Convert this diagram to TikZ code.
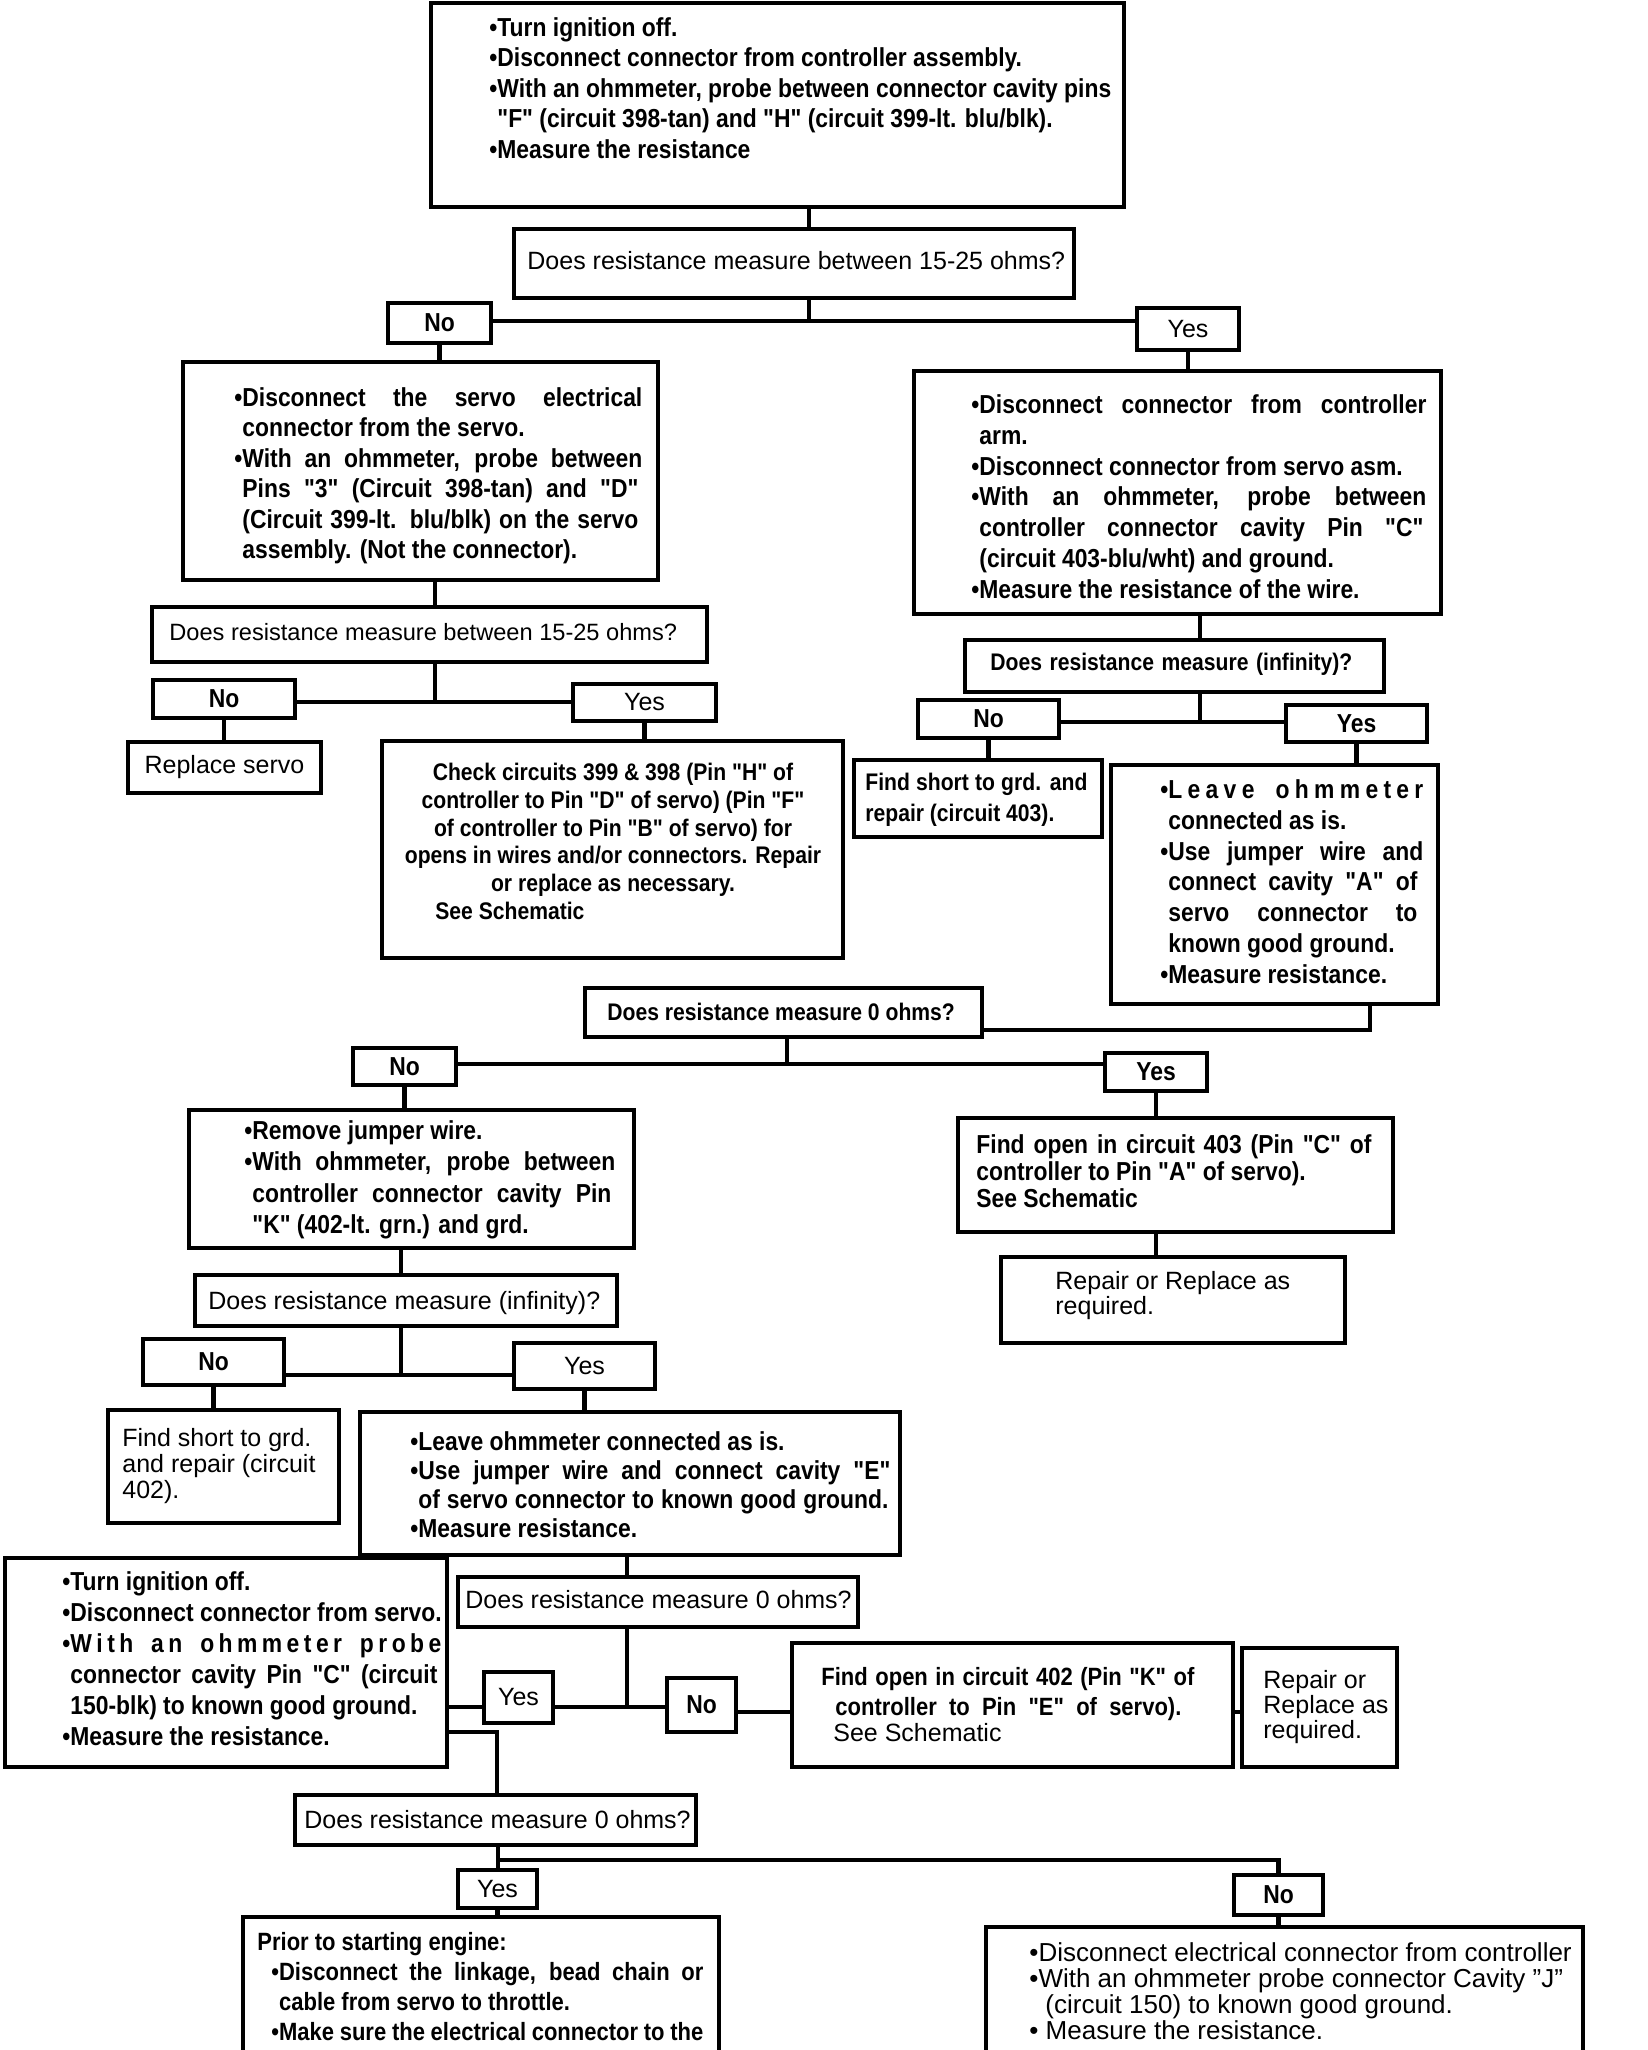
\documentclass[tikz,border=0pt]{standalone}
\usepackage{fontspec}
\setmainfont{Liberation Sans}
\newfontfamily\bcfam[FakeStretch=0.88]{Liberation Sans}
\newcommand\bcf{\bcfam\bfseries}
\newcommand\fstrut{\rule{0pt}{10pt}}
\usetikzlibrary{fit}
\begin{document}
\begin{tikzpicture}[x=0.5pt,y=-0.5pt,
  box/.style={draw, line width=2.4pt, inner sep=0pt, outer sep=0pt},
  conn/.style={line width=2.4pt},
  bt/.style={anchor=north west, inner sep=0pt, align=left, font=\bcf\fontsize{13}{15.25}\selectfont},
  rt/.style={anchor=north west, inner sep=0pt, align=left, font=\fontsize{12.5}{12.5}\selectfont},
  lb/.style={anchor=center, inner sep=0pt, font=\bcf\fontsize{13}{15}\selectfont},
  lr/.style={anchor=center, inner sep=0pt, font=\fontsize{12.5}{15}\selectfont}]
\useasboundingbox (0,0) rectangle (1648,2050);
\clip (0,0) rectangle (1648,2050);

% ---------- top ----------
\node[box, fit={(431,3) (1124,207)}] (T1) {};
\node[bt] (T1t) at (489,16) {\fstrut•Turn ignition off.\\•Disconnect connector from controller assembly.\\•With an ohmmeter, probe between connector cavity pins\\\phantom{•}"F" (circuit 398-tan) and "H" (circuit 399-lt. blu/blk).\\•Measure the resistance};

\node[box, fit={(514,229) (1074,298)}] (Q1) {};
\node[rt] (Q1t) at (527,249) {\fstrut Does resistance measure between 15-25 ohms?};

\node[box, fit={(388,303) (491,343)}] (No1) {};
\node[lb] (No1t) at (No1) {No};
\node[box, fit={(1137,308) (1239,350)}] (Yes1) {};
\node[lr] (Yes1t) at (Yes1) {Yes};

% ---------- left branch ----------
\node[box, fit={(183,362) (658,580)}] (L1) {};
\node[bt, font=\bcf\fontsize{13}{15.2}\selectfont] (L1t) at (234,386) {\fstrut\makebox[204pt][s]{•Disconnect the servo electrical}\\\phantom{•}connector from the servo.\\\makebox[204pt][s]{•With an ohmmeter, probe between}\\\phantom{•}\makebox[198pt][s]{Pins "3" (Circuit 398-tan) and "D"}\\\phantom{•}\makebox[198pt][s]{(Circuit 399-lt. blu/blk) on the servo}\\\phantom{•}assembly. (Not the connector).};

\node[box, fit={(152,607) (707,662)}] (QL2) {};
\node[rt, font=\fontsize{11.8}{12}\selectfont] (QL2t) at (169,620) {\fstrut Does resistance measure between 15-25 ohms?};

\node[box, fit={(153,680) (295,718)}] (NoL2) {};
\node[lb] (NoL2t) at (NoL2) {No};
\node[box, fit={(573,684) (716,721)}] (YesL2) {};
\node[lr] (YesL2t) at (YesL2) {Yes};

\node[box, fit={(128,742) (321,793)}] (RepS) {};
\node[lr] (RepSt) at (RepS) {Replace servo};

\node[box, fit={(382,741) (843,958)}] (Chk) {};
\node[anchor=north, inner sep=0pt, align=center, font=\bcf\fontsize{12}{13.9}\selectfont] (Chkt) at (613,760) {\fstrut Check circuits 399 \& 398 (Pin "H" of\\controller to Pin "D" of servo) (Pin "F"\\of controller to Pin "B" of servo) for\\opens in wires and/or connectors. Repair\\or replace as necessary.};
\node[bt, font=\bcf\fontsize{12}{14}\selectfont] (Chks) at (435,899) {\fstrut See Schematic};

% ---------- right branch ----------
\node[box, fit={(914,371) (1441,614)}] (R1) {};
\node[bt, font=\bcf\fontsize{13}{15.4}\selectfont] (R1t) at (971,393) {\fstrut\makebox[227.5pt][s]{•Disconnect connector from controller}\\\phantom{•}arm.\\•Disconnect connector from servo asm.\\\makebox[227.5pt][s]{•With an ohmmeter, probe between}\\\phantom{•}\makebox[222pt][s]{controller connector cavity Pin "C"}\\\phantom{•}(circuit 403-blu/wht) and ground.\\•Measure the resistance of the wire.};

\node[box, fit={(965,640) (1384,692)}] (Q2) {};
\node[bt, font=\bcf\fontsize{12}{14}\selectfont] (Q2t) at (990,650) {\fstrut\makebox[181pt][s]{Does resistance measure (infinity)?}};

\node[box, fit={(918,700) (1059,738)}] (No2) {};
\node[lb] (No2t) at (No2) {No};
\node[box, fit={(1286,705) (1427,742)}] (Yes2) {};
\node[lb] (Yes2t) at (Yes2) {Yes};

\node[box, fit={(854,760) (1102,837)}] (FS403) {};
\node[bt, font=\bcf\fontsize{12}{15.5}\selectfont] (FS403t) at (865,770) {\fstrut\makebox[111pt][s]{Find short to grd. and}\\repair (circuit 403).};

\node[box, fit={(1111,765) (1438,1004)}] (LvR) {};
\node[bt, font=\bcf\fontsize{13}{15.4}\selectfont] (LvRt) at (1160,778) {\fstrut\makebox[131.5pt][s]{•L\hfil e\hfil a\hfil v\hfil e\hfil\hfil\hfil\hfil o\hfil h\hfil m\hfil m\hfil e\hfil t\hfil e\hfil r}\\\phantom{•}connected as is.\\\makebox[131.5pt][s]{•Use jumper wire and}\\\phantom{•}\makebox[124.5pt][s]{connect cavity "A" of}\\\phantom{•}\makebox[124.5pt][s]{servo connector to}\\\phantom{•}known good ground.\\•Measure resistance.};

% ---------- middle ----------
\node[box, fit={(585,988) (982,1037)}] (Q3) {};
\node[bt, font=\bcf\fontsize{12}{14}\selectfont] (Q3t) at (607,1000) {\fstrut Does resistance measure 0 ohms?};

\node[box, fit={(353,1048) (456,1085)}] (NoQ3) {};
\node[lb] (NoQ3t) at (NoQ3) {No};
\node[box, fit={(1105,1053) (1207,1091)}] (YesQ3) {};
\node[lb] (YesQ3t) at (YesQ3) {Yes};

\node[box, fit={(189,1110) (634,1248)}] (Rem) {};
\node[bt, font=\bcf\fontsize{13}{15.75}\selectfont] (Remt) at (244,1119) {\fstrut•Remove jumper wire.\\\makebox[185.5pt][s]{•With ohmmeter, probe between}\\\phantom{•}\makebox[179.5pt][s]{controller connector cavity Pin}\\\phantom{•}"K" (402-lt. grn.) and grd.};

\node[box, fit={(958,1118) (1393,1232)}] (FO403) {};
\node[bt, font=\bcf\fontsize{13}{13.5}\selectfont] (FO403t) at (976,1133) {\fstrut\makebox[197.5pt][s]{Find open in circuit 403 (Pin "C" of}\\controller to Pin "A" of servo).\\See Schematic};

\node[box, fit={(1001,1257) (1345,1343)}] (Rep1) {};
\node[rt] (Rep1t) at (1055,1269) {\fstrut Repair or Replace as\\required.};

\node[box, fit={(195,1275) (617,1326)}] (Q4) {};
\node[rt] (Q4t) at (208,1289) {\fstrut Does resistance measure (infinity)?};

\node[box, fit={(143,1339) (284,1385)}] (NoQ4) {};
\node[lb] (NoQ4t) at (NoQ4) {No};
\node[box, fit={(514,1343) (655,1389)}] (YesQ4) {};
\node[lr] (YesQ4t) at (YesQ4) {Yes};

\node[box, fit={(108,1410) (339,1523)}] (FS402) {};
\node[rt, font=\fontsize{12.5}{13}\selectfont] (FS402t) at (122,1426) {\fstrut Find short to grd.\\and repair (circuit\\402).};

\node[box, fit={(360,1412) (900,1555)}] (LvL) {};
\node[bt, font=\bcf\fontsize{13}{14.5}\selectfont] (LvLt) at (410,1430) {\fstrut•Leave ohmmeter connected as is.\\\makebox[240pt][s]{•Use jumper wire and connect cavity "E"}\\\phantom{•}\makebox[235pt][s]{of servo connector to known good ground.}\\•Measure resistance.};

% ---------- lower ----------
\node[box, fit={(458,1577) (858,1627)}] (Q5) {};
\node[rt] (Q5t) at (465,1588) {\fstrut Does resistance measure 0 ohms?};

\node[box, fit={(484,1672) (553,1723)}] (YesQ5) {};
\node[lr] (YesQ5t) at (YesQ5) {Yes};
\node[box, fit={(667,1678) (736,1732)}] (NoQ5) {};
\node[lb] (NoQ5t) at (NoQ5) {No};

\node[box, fit={(792,1643) (1233,1767)}] (FO402) {};
\node[bt, font=\bcf\fontsize{12.5}{15}\selectfont] (FO402t) at (821,1665) {\fstrut\makebox[186.5pt][s]{Find open in circuit 402 (Pin "K" of}\\\hspace*{7pt}\makebox[173pt][s]{controller to Pin "E" of servo).}};
\node[rt] (FO402s) at (833,1721) {\fstrut See Schematic};

\node[box, fit={(1242,1648) (1397,1767)}] (Rep2) {};
\node[rt] (Rep2t) at (1263,1668) {\fstrut Repair or\\Replace as\\required.};

\node[box, fit={(5,1558) (447,1767)}] (TI) {};
\node[bt, font=\bcf\fontsize{13}{15.5}\selectfont] (TIt) at (62,1570) {\fstrut•Turn ignition off.\\•Disconnect connector from servo.\\\makebox[189.5pt][s]{•W\hfil i\hfil t\hfil h\hfil\hfil\hfil\hfil a\hfil n\hfil\hfil\hfil\hfil o\hfil h\hfil m\hfil m\hfil e\hfil t\hfil e\hfil r\hfil\hfil\hfil\hfil p\hfil r\hfil o\hfil b\hfil e}\\\phantom{•}\makebox[183.5pt][s]{connector cavity Pin "C" (circuit}\\\phantom{•}150-blk) to known good ground.\\•Measure the resistance.};

\node[box, fit={(295,1795) (696,1845)}] (Q6) {};
\node[rt] (Q6t) at (304,1808) {\fstrut Does resistance measure 0 ohms?};

\node[box, fit={(458,1870) (537,1908)}] (YesQ6) {};
\node[lr] (YesQ6t) at (YesQ6) {Yes};
\node[box, fit={(1234,1875) (1323,1915)}] (NoQ6) {};
\node[lb] (NoQ6t) at (NoQ6) {No};

\node[box, fit={(243,1917) (719,2100)}] (Prior) {};
\node[bt, font=\bcf\fontsize{12.5}{15}\selectfont] (Priort) at (257,1930) {\fstrut Prior to starting engine:\\\hspace*{7pt}\makebox[216pt][s]{•Disconnect the linkage, bead chain or}\\\hspace*{7pt}\phantom{•}cable from servo to throttle.\\\hspace*{7pt}\makebox[216pt][s]{•Make sure the electrical connector to the}};

\node[box, fit={(986,1927) (1583,2100)}] (BR) {};
\node[rt, font=\fontsize{13}{13}\selectfont] (BRt) at (1029,1941) {\fstrut•Disconnect electrical connector from controller\\•With an ohmmeter probe connector Cavity "J"\\\hspace*{8pt}(circuit 150) to known good ground.\\• Measure the resistance.};

% ---------- connectors ----------
\coordinate (J1) at (809,321);
\draw[conn] (J1 |- T1.south) -- (J1 |- Q1.north);
\draw[conn] (J1 |- Q1.south) -- (J1);
\draw[conn] (No1.east |- J1) -- (Yes1.west |- J1);
\draw[conn] (No1.south) -- (No1.south |- L1.north);
\draw[conn] (Yes1.south) -- (Yes1.south |- R1.north);

\coordinate (J2) at (435,702);
\draw[conn] (J2 |- L1.south) -- (J2 |- QL2.north);
\draw[conn] (J2 |- QL2.south) -- (J2);
\draw[conn] (NoL2.east |- J2) -- (YesL2.west |- J2);
\draw[conn] (NoL2.south) -- (NoL2.south |- RepS.north);
\draw[conn] (YesL2.south) -- (YesL2.south |- Chk.north);

\coordinate (J3) at (1200,722);
\draw[conn] (J3 |- R1.south) -- (J3 |- Q2.north);
\draw[conn] (J3 |- Q2.south) -- (J3);
\draw[conn] (No2.east |- J3) -- (Yes2.west |- J3);
\draw[conn] (No2.south) -- (No2.south |- FS403.north);
\draw[conn] (Yes2.south) -- (Yes2.south |- LvR.north);

\coordinate (J4) at (1370,1030);
\draw[conn] (J4 |- LvR.south) -- (J4) -- (Q3.east |- J4);

\coordinate (J5) at (787,1064);
\draw[conn] (J5 |- Q3.south) -- (J5);
\draw[conn] (NoQ3.east |- J5) -- (YesQ3.west |- J5);
\draw[conn] (NoQ3.south) -- (NoQ3.south |- Rem.north);
\draw[conn] (YesQ3.south) -- (YesQ3.south |- FO403.north);
\draw[conn] (YesQ3.south |- FO403.south) -- (YesQ3.south |- Rep1.north);

\coordinate (J6) at (401,1375);
\draw[conn] (J6 |- Rem.south) -- (J6 |- Q4.north);
\draw[conn] (J6 |- Q4.south) -- (J6);
\draw[conn] (NoQ4.east |- J6) -- (YesQ4.west |- J6);
\draw[conn] (NoQ4.south) -- (NoQ4.south |- FS402.north);
\draw[conn] (YesQ4.south) -- (YesQ4.south |- LvL.north);

\coordinate (J7) at (627,1707);
\draw[conn] (J7 |- LvL.south) -- (J7 |- Q5.north);
\draw[conn] (J7 |- Q5.south) -- (J7);
\draw[conn] (YesQ5.east |- J7) -- (NoQ5.west |- J7);
\draw[conn] (YesQ5.west |- J7) -- (TI.east |- J7);
\coordinate (J8) at (760,1712);
\draw[conn] (NoQ5.east |- J8) -- (FO402.west |- J8);
\draw[conn] (FO402.east |- J8) -- (Rep2.west |- J8);

\coordinate (J9) at (497,1732);
\draw[conn] (TI.east |- J9) -- (J9) -- (J9 |- Q6.north);

\coordinate (J10) at (498,1860);
\draw[conn] (J10 |- Q6.south) -- (J10 |- YesQ6.north);
\draw[conn] (J10) -- (NoQ6.north |- J10) -- (NoQ6.north);
\draw[conn] (YesQ6.south) -- (YesQ6.south |- Prior.north);
\draw[conn] (NoQ6.south) -- (NoQ6.south |- BR.north);
\end{tikzpicture}
\end{document}
